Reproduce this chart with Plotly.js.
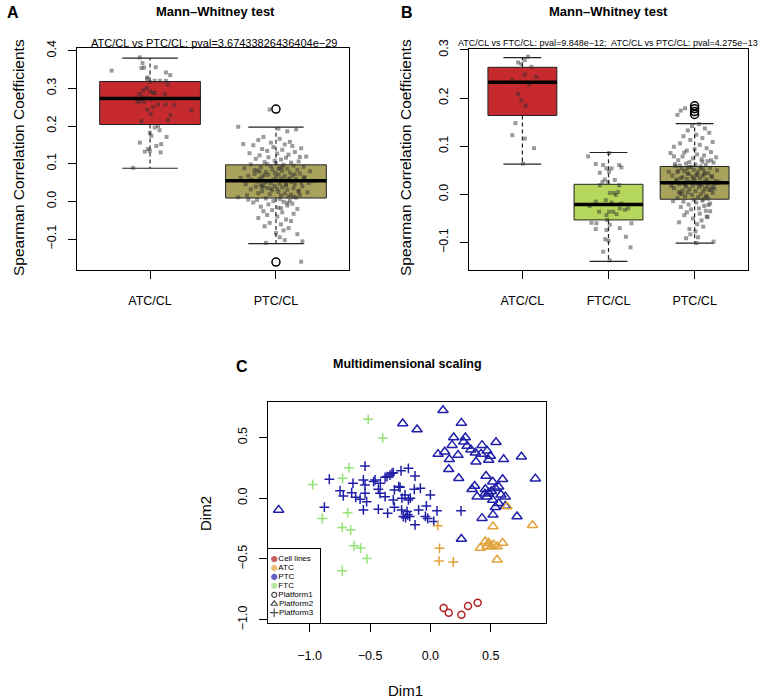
<!DOCTYPE html>
<html><head><meta charset="utf-8">
<script src="https://cdn.plot.ly/plotly-3.0.1.min.js"></script>
<style>html,body{margin:0;padding:0;background:#fff}#chart{width:767px;height:698px}</style>
</head><body><div id="chart"></div>
<script>
// ---------- Panel A data ----------
const aGroups = ['ATC/CL', 'PTC/CL'];
const aQ1  = [0.204, 0.009];
const aMed = [0.273, 0.055];
const aQ3  = [0.318, 0.097];
const aLo  = [0.088, -0.112];
const aHi  = [0.380, 0.197];
const aOutGroup = [2, 2];
const aOutVal = [0.245, -0.161];
const aAtcVal = [0.382,0.367,0.355,0.354,0.356,0.347,0.342,0.335,0.329,0.325,0.320,0.320,0.320,0.317,0.310,0.301,0.294,0.292,0.288,0.288,0.285,0.285,0.276,0.275,0.270,0.266,0.263,0.263,0.257,0.257,0.255,0.250,0.244,0.232,0.229,0.242,0.216,0.213,0.200,0.196,0.189,0.182,0.174,0.171,0.156,0.152,0.139,0.134,0.147,0.132,0.130,0.089];
const aAtcJit = [-0.081,-0.060,-0.047,-0.068,0.045,-0.305,0.126,0.160,-0.021,-0.024,0.126,0.079,0.037,-0.002,0.142,-0.026,-0.055,0.000,0.037,0.024,0.118,-0.084,-0.068,-0.029,0.010,-0.081,-0.047,-0.100,0.063,0.123,0.194,0.024,-0.021,0.005,0.163,0.328,0.142,-0.068,0.063,0.037,0.076,-0.002,0.010,0.131,-0.081,0.089,-0.016,-0.002,0.050,-0.042,0.084,-0.134];
const aPtcVal = [
0.244,0.198,0.193,0.191,0.186,0.171,0.166,0.163,0.158,0.156,
0.151,0.149,0.147,0.144,0.141,0.139,0.137,0.134,0.131,0.128,
0.127,0.124,0.122,0.119,0.117,0.116,0.113,0.111,0.108,0.106,
0.104,0.103,0.101,0.098,0.097,0.095,0.094,0.092,0.091,0.089,
0.088,0.087,0.085,0.084,0.082,0.081,0.080,0.078,0.077,0.076,
0.074,0.073,0.072,0.071,0.069,0.068,0.067,0.066,0.065,0.063,
0.062,0.061,0.060,0.059,0.058,0.057,0.056,0.055,0.054,0.053,
0.052,0.051,0.050,0.048,0.047,0.046,0.045,0.044,0.043,0.041,
0.040,0.039,0.037,0.036,0.035,0.033,0.032,0.031,0.029,0.028,
0.027,0.025,0.024,0.022,0.021,0.019,0.018,0.016,0.015,0.013,
0.011,0.010,0.008,0.006,0.004,0.002,0.001,-0.001,-0.003,-0.006,
-0.008,-0.011,-0.014,-0.017,-0.020,-0.023,-0.026,-0.029,-0.033,-0.036,
-0.040,-0.044,-0.048,-0.052,-0.057,-0.061,-0.066,-0.071,-0.077,-0.084,
-0.087,-0.095,-0.103,-0.106,-0.110,-0.160,0.152,0.118,0.070,0.045,
0.083,0.064,0.038,0.012,0.091,0.057,0.026,-0.004,0.079,0.049,
0.034,0.061,0.099,0.005,-0.018,0.072,0.041,0.086,0.017,0.053];
const aPtcJit = [
-0.05,-0.30,0.02,0.16,0.09,-0.10,0.03,-0.14,0.11,-0.04,
0.07,-0.18,0.13,-0.02,0.20,-0.11,0.05,-0.07,0.15,-0.21,
0.01,0.10,-0.13,0.24,-0.06,0.08,-0.16,0.04,-0.01,0.18,
-0.09,0.12,0.00,-0.20,0.06,0.14,-0.04,0.22,-0.12,0.03,
-0.25,0.09,-0.03,0.17,-0.15,0.05,0.27,-0.08,0.11,-0.01,
0.19,-0.17,0.02,-0.06,0.13,-0.22,0.07,0.00,-0.11,0.23,
-0.28,0.04,-0.13,0.16,-0.02,0.10,-0.19,0.06,0.29,-0.07,
0.12,-0.09,0.20,-0.04,0.03,-0.24,0.15,-0.12,0.08,-0.01,
0.21,-0.16,0.05,-0.07,0.14,0.01,-0.20,0.09,-0.03,0.18,
-0.11,0.02,0.25,-0.14,0.07,-0.05,0.12,-0.23,0.04,0.10,
-0.30,0.16,-0.08,0.03,-0.15,0.11,-0.02,0.06,-0.18,0.13,
-0.06,0.09,-0.12,0.02,0.17,-0.03,-0.10,0.05,0.14,-0.07,
0.01,-0.14,0.08,0.12,-0.05,0.04,-0.09,0.10,0.06,0.00,
0.17,0.03,0.07,0.21,-0.08,0.20,-0.26,0.19,-0.09,0.08,
-0.17,0.22,-0.11,0.14,0.05,-0.20,0.18,0.09,-0.13,0.26,
-0.04,0.11,-0.07,-0.22,0.04,0.15,-0.10,0.02,0.19,-0.15];

// ---------- Panel B data ----------
const bGroups = ['ATC/CL', 'FTC/CL', 'PTC/CL'];
const bQ1  = [0.164, -0.053, -0.010];
const bMed = [0.233, -0.021, 0.024];
const bQ3  = [0.264, 0.021, 0.058];
const bLo  = [0.063, -0.139, -0.101];
const bHi  = [0.284, 0.087, 0.147];
const bOutGroup = [3, 3, 3, 3];
const bOutVal = [0.184, 0.178, 0.172, 0.166];
const bAtcVal = [0.286,0.279,0.274,0.271,0.265,0.249,0.244,0.238,0.228,0.209,0.195,0.184,0.148,0.123,0.116,0.096,0.064];
const bAtcJit = [0.065,0.027,-0.051,-0.012,0.105,0.027,0.163,-0.117,0.077,-0.051,-0.012,0.038,-0.081,-0.117,0.027,0.135,0.007];
const bFtcVal = [0.079,0.086,0.063,0.061,0.061,0.054,0.054,0.056,0.045,0.047,0.031,0.026,0.026,0.030,0.019,0.019,0.003,0.003,0.005,-0.001,-0.015,-0.012,-0.017,-0.019,-0.024,-0.036,-0.036,-0.036,-0.029,-0.032,-0.029,-0.043,-0.041,-0.059,-0.060,-0.053,-0.063,-0.072,-0.070,-0.060,-0.074,-0.088,-0.093,-0.096,-0.110,-0.119,-0.137];
const bFtcJit = [-0.237,0.007,-0.148,-0.063,0.124,-0.024,0.035,0.150,-0.101,0.007,-0.043,-0.070,-0.005,0.073,-0.101,0.124,0.015,0.062,0.112,0.085,-0.148,-0.031,0.035,0.150,-0.218,-0.109,0.007,0.054,0.131,0.189,0.228,-0.024,0.093,-0.198,-0.140,-0.016,0.015,-0.148,0.131,0.267,-0.024,0.202,-0.039,0.000,0.255,-0.062,0.015];
const bPtcVal = [
0.179,0.174,0.165,0.146,0.142,0.137,0.133,0.128,0.124,0.121,
0.117,0.113,0.109,0.106,0.103,0.099,0.096,0.094,0.091,0.088,
0.086,0.083,0.081,0.079,0.077,0.075,0.073,0.071,0.069,0.067,
0.066,0.064,0.062,0.061,0.059,0.058,0.057,0.055,0.054,0.052,
0.051,0.050,0.048,0.047,0.046,0.044,0.043,0.042,0.041,0.039,
0.038,0.037,0.036,0.034,0.033,0.032,0.031,0.030,0.028,0.027,
0.026,0.025,0.024,0.023,0.022,0.021,0.019,0.018,0.017,0.016,
0.015,0.013,0.012,0.011,0.010,0.008,0.007,0.006,0.004,0.003,
0.002,0.000,-0.001,-0.003,-0.004,-0.006,-0.008,-0.009,-0.011,-0.013,
-0.015,-0.017,-0.019,-0.021,-0.024,-0.026,-0.029,-0.031,-0.034,-0.037,
-0.040,-0.043,-0.047,-0.050,-0.054,-0.058,-0.062,-0.067,-0.072,-0.077,
-0.083,-0.089,-0.091,-0.098,-0.101,0.049,0.028,0.063,0.009,0.036,
0.071,0.018,-0.005,0.043,0.055,0.024,0.001,0.038,0.087,-0.022,
0.031,0.012,0.057,-0.014,0.045,0.020,0.068,-0.035,0.005,0.040,
0.026,0.053,-0.010,0.015,0.079,0.033,-0.046,0.060,0.022,0.047];
const bPtcJit = [
-0.11,-0.16,-0.20,0.05,-0.03,0.12,-0.08,0.17,0.02,-0.13,
0.09,-0.05,0.21,-0.17,0.06,-0.24,0.14,0.00,-0.09,0.19,
-0.28,0.03,0.11,-0.14,0.25,-0.02,0.08,-0.19,0.15,-0.06,
0.22,-0.10,0.01,0.13,-0.22,0.07,-0.04,0.18,-0.15,0.10,
-0.01,0.26,-0.12,0.04,-0.20,0.16,-0.07,0.11,0.02,-0.26,
0.09,-0.03,0.20,-0.16,0.06,-0.09,0.14,0.00,-0.21,0.12,
-0.05,0.17,-0.13,0.03,0.23,-0.18,0.08,-0.02,0.15,-0.10,
0.05,-0.24,0.12,-0.06,0.19,-0.14,0.01,0.10,-0.08,0.21,
-0.17,0.07,-0.03,0.14,-0.11,0.04,-0.20,0.16,-0.01,0.09,
-0.13,0.02,0.18,-0.07,0.11,-0.16,0.05,-0.04,0.13,-0.09,
0.06,-0.12,0.15,-0.02,0.08,-0.18,0.03,0.10,-0.06,0.01,
-0.05,0.04,-0.10,0.22,0.02,-0.19,0.24,-0.23,0.17,-0.14,
0.19,-0.27,0.13,-0.08,0.07,0.27,-0.15,0.20,-0.12,0.16,
-0.21,0.23,-0.06,-0.25,0.12,-0.11,0.09,0.18,-0.18,0.03,
0.28,-0.09,0.10,0.21,-0.24,-0.01,0.14,-0.17,0.06,-0.30];

// ---------- Panel C data (MDS) ----------
const cellX = [0.110,0.152,0.257,0.312,0.392];
const cellY = [-0.904,-0.943,-0.959,-0.888,-0.861];
const atcP2X = [0.519,0.846,0.635,0.414,0.456,0.483,0.505,0.524,0.553,0.599,0.553,0.470];
const atcP2Y = [-0.233,-0.222,-0.069,-0.410,-0.356,-0.369,-0.397,-0.383,-0.397,-0.369,-0.506,-0.397];
const atcP3X = [0.062,0.076,0.072,0.190];
const atcP3Y = [-0.226,-0.412,-0.516,-0.525];
const ptcP2X = [0.105,0.257,-0.110,-0.229,0.193,0.290,0.276,0.180,0.119,0.064,0.157,0.229,0.304,0.428,0.544,0.373,0.470,0.378,0.483,0.497,0.607,0.754,0.152,0.235,0.461,0.599,0.870,0.367,0.345,0.387,0.456,0.483,0.516,0.539,0.566,0.470,0.516,0.566,0.621,0.621,0.539,0.519,0.428,0.718,0.257,-1.257,0.505,0.452,0.585,0.336,0.420];
const ptcP2Y = [0.724,0.620,0.566,0.615,0.500,0.500,0.464,0.437,0.382,0.363,0.320,0.355,0.429,0.437,0.461,0.374,0.390,0.300,0.314,0.347,0.320,0.341,0.238,0.164,0.183,0.156,0.161,0.101,0.074,0.013,0.074,0.046,0.136,0.082,0.095,0.013,-0.014,-0.041,0.013,-0.063,-0.074,-0.137,-0.164,-0.151,-0.336,-0.096,0.058,0.036,0.028,0.400,0.365];
const ptcP3X = [-0.541,-0.837,-0.555,-0.458,-0.375,-0.334,-0.307,-0.243,-0.182,-0.127,-0.748,-0.721,-0.652,-0.619,-0.541,-0.541,-0.582,-0.528,-0.431,-0.417,-0.375,-0.298,-0.251,-0.210,-0.182,-0.133,-0.307,-0.878,-0.555,-0.431,-0.354,-0.298,-0.238,-0.224,-0.188,-0.127,-0.359,-0.318,-0.083,0.000,-0.166,-0.097,-0.033,-0.041,-0.022,0.028,0.055,0.254,-0.171,-0.193,-0.414,-0.641,-0.470,-0.235,-0.262,-0.205];
const ptcP3Y = [0.265,0.156,0.150,0.150,0.172,0.191,0.210,0.226,0.246,0.183,0.062,0.019,0.046,0.008,0.109,0.041,-0.008,-0.028,0.074,0.041,0.013,0.068,0.090,0.027,-0.014,0.074,-0.014,-0.074,-0.096,-0.090,-0.123,-0.074,-0.096,-0.151,-0.137,-0.219,0.178,0.205,0.082,0.027,0.000,-0.096,-0.063,-0.150,-0.167,-0.191,-0.104,-0.104,-0.150,-0.109,0.123,0.123,0.137,0.000,0.096,-0.160];
const ftcP3X = [-0.515,-0.395,-0.674,-0.727,-0.975,-0.895,-0.685,-0.730,-0.660,-0.632,-0.578,-0.526,-0.730];
const ftcP3Y = [0.649,0.496,0.250,0.164,0.113,-0.167,-0.119,-0.240,-0.262,-0.391,-0.410,-0.497,-0.597];
const legendLabels = ['Cell lines','ATC','PTC','FTC','Platform1','Platform2','Platform3'];
const cTicks = [-1.0, -0.5, 0.0, 0.5];

// ---------- styling ----------
const W = 767, H = 698;
const fx = p => p / W, fy = p => 1 - p / H;
const FONT = 'Liberation Sans, Arial, Helvetica, sans-serif';
const colRed = '#C62A2E', colOlive = '#A9A25D', colLime = '#B5D75B';
const colCell = '#B22222', colATC = '#E2A33A', colPTC = '#1F1FA8', colFTC = '#94E274';
const ptColor = 'rgba(45,45,45,0.48)';

const traces = [];
function boxTraces(xa, ya, q1, med, q3, lo, hi, fills) {
  const hw = 0.4, sw = 0.22;
  q1.forEach((_, i) => {
    const c = i + 1;
    traces.push({type:'scatter', mode:'lines', xaxis:xa, yaxis:ya, hoverinfo:'skip', showlegend:false,
      x:[c-hw,c+hw,c+hw,c-hw,c-hw], y:[q1[i],q1[i],q3[i],q3[i],q1[i]],
      fill:'toself', fillcolor:fills[i], line:{color:'#222', width:1}});
  });
  const wx = [], wy = [], sx = [], sy = [];
  q1.forEach((_, i) => {
    const c = i + 1;
    wx.push(c, c, null, c, c, null); wy.push(q3[i], hi[i], null, q1[i], lo[i], null);
    sx.push(c-sw, c+sw, null, c-sw, c+sw, null); sy.push(hi[i], hi[i], null, lo[i], lo[i], null);
  });
  traces.push({type:'scatter', mode:'lines', xaxis:xa, yaxis:ya, hoverinfo:'skip', showlegend:false,
    x:wx, y:wy, line:{color:'#222', width:1.2, dash:'4px,3px'}});
  traces.push({type:'scatter', mode:'lines', xaxis:xa, yaxis:ya, hoverinfo:'skip', showlegend:false,
    x:sx, y:sy, line:{color:'#222', width:1.2}});
}
function medianTrace(xa, ya, med) {
  const mx = [], my = [];
  med.forEach((m, i) => { mx.push(i+1-0.4, i+1+0.4, null); my.push(m, m, null); });
  traces.push({type:'scatter', mode:'lines', xaxis:xa, yaxis:ya, hoverinfo:'skip', showlegend:false,
    x:mx, y:my, line:{color:'#000', width:3.5}});
}
function jitterTrace(xa, ya, center, jit, vals) {
  traces.push({type:'scatter', mode:'markers', xaxis:xa, yaxis:ya, showlegend:false,
    x: vals.map((v, i) => center + jit[i]), y: vals,
    marker:{symbol:'square', size:4, color:ptColor}});
}
function outlierTrace(xa, ya, gx, vals) {
  traces.push({type:'scatter', mode:'markers', xaxis:xa, yaxis:ya, showlegend:false,
    x:gx, y:vals, marker:{symbol:'circle-open', size:8, color:'#000', line:{width:1.5, color:'#000'}}});
}

// Panel A
boxTraces('x', 'y', aQ1, aMed, aQ3, aLo, aHi, [colRed, colOlive]);
jitterTrace('x', 'y', 1, aAtcJit, aAtcVal);
jitterTrace('x', 'y', 2, aPtcJit, aPtcVal);
medianTrace('x', 'y', aMed);
outlierTrace('x', 'y', aOutGroup, aOutVal);
// Panel B
boxTraces('x2', 'y2', bQ1, bMed, bQ3, bLo, bHi, [colRed, colLime, colOlive]);
jitterTrace('x2', 'y2', 1, bAtcJit, bAtcVal);
jitterTrace('x2', 'y2', 2, bFtcJit, bFtcVal);
jitterTrace('x2', 'y2', 3, bPtcJit, bPtcVal);
medianTrace('x2', 'y2', bMed);
outlierTrace('x2', 'y2', bOutGroup, bOutVal);
// Panel C
function mds(x, y, color, sym, size) {
  traces.push({type:'scatter', mode:'markers', xaxis:'x3', yaxis:'y3', showlegend:false, x:x, y:y,
    marker:{symbol:sym, size:size, color:color, line:{color:color, width:1.5}}});
}
mds(ftcP3X, ftcP3Y, colFTC, 'cross-thin-open', 7);
mds(ptcP3X, ptcP3Y, colPTC, 'cross-thin-open', 7);
mds(ptcP2X, ptcP2Y, colPTC, 'triangle-up-open', 9);
mds(atcP2X, atcP2Y, colATC, 'triangle-up-open', 9);
mds(atcP3X, atcP3Y, colATC, 'cross-thin-open', 7);
mds(cellX, cellY, colCell, 'circle-open', 7);

// Legend of panel C (own small axes)
const legColors = [colCell, colATC, colPTC, colFTC, '#000', '#000', '#000'];
const legSyms = ['circle', 'circle', 'circle', 'circle', 'circle-open', 'triangle-up-open', 'cross-thin-open'];
const legSizes = [5, 5, 5, 5, 5, 6, 6];
const legY = legendLabels.map((_, i) => 0.865 - i * 0.121);
traces.push({type:'scatter', mode:'markers+text', xaxis:'x4', yaxis:'y4', showlegend:false, hoverinfo:'skip',
  x: legendLabels.map(() => 0.12), y: legY, text: legendLabels, textposition:'middle right',
  textfont:{family:FONT, size:8, color:'#000'},
  marker:{symbol:legSyms, size:legSizes, color:legColors, line:{color:legColors, width:1.2}}});

const axBase = {showgrid:false, zeroline:false, showline:true, mirror:true, linecolor:'#000', linewidth:1,
  ticks:'outside', ticklen:8, tickwidth:1, tickcolor:'#000', fixedrange:true,
  tickfont:{family:FONT, size:12.5, color:'#000'}};
const yBase = Object.assign({}, axBase, {tickangle:-90, tickformat:'.1f', ticklabelstandoff:7});
const xBase = Object.assign({}, axBase, {ticklabelstandoff:11});

const layout = {
  width: W, height: H, margin:{l:0, r:0, t:0, b:0}, paper_bgcolor:'#fff', plot_bgcolor:'rgba(0,0,0,0)',
  showlegend:false, font:{family:FONT, color:'#000'},
  xaxis: Object.assign({}, xBase, {domain:[fx(77), fx(349)], range:[0.42, 2.58], anchor:'y',
    tickvals:[1, 2], ticktext:aGroups}),
  yaxis: Object.assign({}, yBase, {domain:[fy(270), fy(48)], range:[-0.182, 0.407], anchor:'x',
    tickvals:[-0.1, 0, 0.1, 0.2, 0.3, 0.4]}),
  xaxis2: Object.assign({}, xBase, {domain:[fx(469), fx(748)], range:[0.38, 3.62], anchor:'y2',
    tickvals:[1, 2, 3], ticktext:bGroups}),
  yaxis2: Object.assign({}, yBase, {domain:[fy(270), fy(49)], range:[-0.157, 0.302], anchor:'x2',
    tickvals:[-0.1, 0, 0.1, 0.2, 0.3]}),
  xaxis3: Object.assign({}, xBase, {domain:[fx(268), fx(546)], range:[-1.345, 0.958], anchor:'y3',
    tickvals:cTicks, tickformat:'.1f', ticklabelstandoff:13}),
  yaxis3: Object.assign({}, yBase, {domain:[fy(623), fy(402)], range:[-1.027, 0.792], anchor:'x3',
    tickvals:cTicks}),
  xaxis4: {domain:[fx(268), fx(320)], range:[0, 1], anchor:'y4', showgrid:false, zeroline:false,
    showline:true, mirror:true, linecolor:'#000', linewidth:1, showticklabels:false, ticks:'', fixedrange:true},
  yaxis4: {domain:[fy(623), fy(549)], range:[0, 1], anchor:'x4', showgrid:false, zeroline:false,
    showline:true, mirror:true, linecolor:'#000', linewidth:1, showticklabels:false, ticks:'', fixedrange:true},
  annotations: [
    {text:'<b>A</b>', x:fx(13), y:fy(13), font:{size:16}},
    {text:'<b>B</b>', x:fx(407), y:fy(13), font:{size:16}},
    {text:'<b>C</b>', x:fx(242), y:fy(367), font:{size:16}},
    {text:'<b>Mann–Whitney test</b>', x:fx(215), y:fy(12), font:{size:13}},
    {text:'<b>Mann–Whitney test</b>', x:fx(608), y:fy(12), font:{size:13}},
    {text:'<b>Multidimensional scaling</b>', x:fx(407), y:fy(364), font:{size:12.5}},
    {text:'ATC/CL vs PTC/CL: pval=3.67433826436404e−29', x:fx(214), y:fy(43), font:{size:11}},
    {text:'ATC/CL vs FTC/CL: pval=9.848e−12;  ATC/CL vs PTC/CL: pval=4.275e−13', x:fx(608), y:fy(43), font:{size:9}},
    {text:'Spearman Correlation Coefficients', x:fx(18), y:fy(158), textangle:-90, font:{size:15.5}},
    {text:'Spearman Correlation Coefficients', x:fx(405), y:fy(158), textangle:-90, font:{size:15.5}},
    {text:'Dim2', x:fx(205), y:fy(513), textangle:-90, font:{size:15}},
    {text:'Dim1', x:fx(406), y:fy(690), font:{size:15}}
  ].map(a => Object.assign({xref:'paper', yref:'paper', showarrow:false, xanchor:'center', yanchor:'middle'}, a,
      {font:Object.assign({family:FONT, color:'#000'}, a.font)}))
};
Plotly.newPlot('chart', traces, layout, {staticPlot:true, displayModeBar:false});
</script>
</body></html>
